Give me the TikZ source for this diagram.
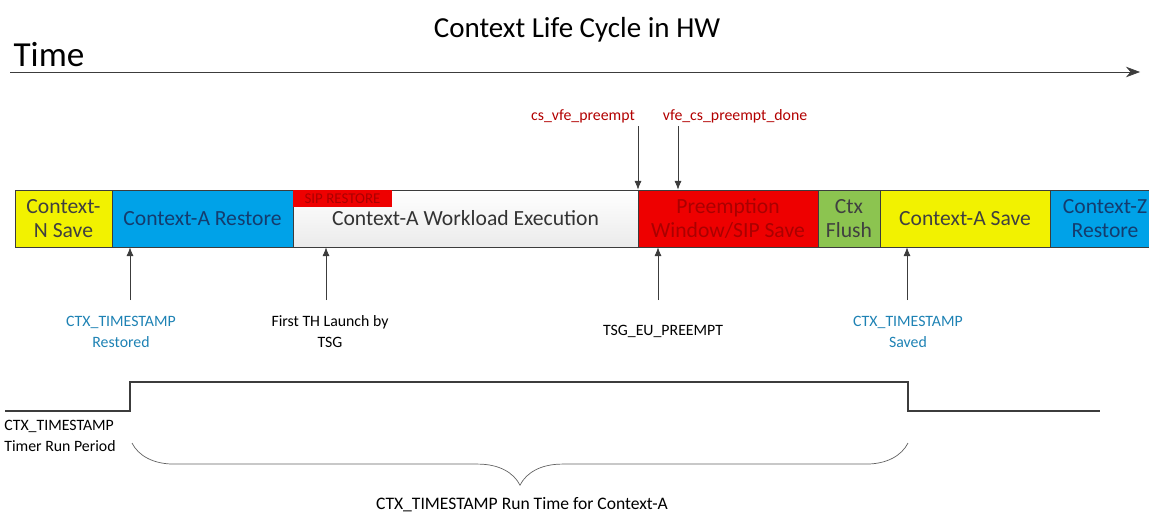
\documentclass[tikz,border=0pt]{standalone}
\usepackage{fontspec}
\setmainfont{Carlito}
\usepackage{xcolor}
\usetikzlibrary{arrows.meta,decorations.pathreplacing}

\definecolor{ctxyellow}{RGB}{242,242,0}
\definecolor{ctxblue}{RGB}{0,162,232}
\definecolor{ctxred}{RGB}{238,0,0}
\definecolor{ctxgreen}{RGB}{140,196,80}
\definecolor{darkred}{RGB}{170,0,0}
\definecolor{darkblue}{RGB}{20,60,110}
\definecolor{stampblue}{RGB}{30,130,180}
\definecolor{linegray}{RGB}{60,60,60}

\tikzset{
  seg/.style={draw=linegray, minimum height=1.14cm, inner sep=0pt, align=center,
    font=\fontsize{12.3}{14}\selectfont},
  evt/.style={align=center, font=\fontsize{9}{12}\selectfont},
  sig/.style={red!70!black, font=\fontsize{9}{11}\selectfont},
  pointer/.style={draw=linegray, -{Latex[length=5pt,width=4pt]}}
}

\begin{document}
\begin{tikzpicture}[x=0.02cm, y=-0.02cm]
                \useasboundingbox (0,0) rectangle (1149,514);
                % time axis
                \node[font=\fontsize{16.5}{19}\selectfont] (title) at (577,30) {Context Life Cycle in HW};
                \node[font=\fontsize{20}{22}\selectfont] (time) at (49,55) {Time};
                \coordinate (t0) at (10,72);
                \coordinate (t1) at (1140,72);
                \draw[linegray, -{Stealth[length=8pt,width=6pt]}] (t0) -- (t1);
                % context bar
                \node[seg, fill=ctxyellow, text=black!75, minimum width=1.94cm] (nsave) at (63.5,218.5) {Context-\\N Save};
                \node[seg, fill=ctxblue, text=darkblue, minimum width=3.62cm] (arest) at (202.5,218.5) {Context-A Restore};
                \node[seg, top color=white, bottom color=black!8, text=black!80, minimum width=6.9cm] (awork) at (465.5,218.5) {Context-A Workload Execution};
                \node[seg, fill=ctxred, text=darkred, minimum width=3.6cm] (preempt) at (728,218.5) {Preemption\\Window/SIP Save};
                \node[seg, fill=ctxgreen, text=black!75, minimum width=1.24cm] (flush) at (849,218.5) {Ctx\\Flush};
                \node[seg, fill=ctxyellow, text=black!75, minimum width=3.4cm] (asave) at (965,218.5) {Context-A Save};
                \node[seg, fill=ctxblue, text=darkblue, minimum width=2.2cm] (zrest) at (1105,218.5) {Context-Z\\Restore};
                \node[fill=ctxred, text=darkred, inner sep=0pt, minimum width=1.98cm, minimum height=0.34cm,
                  font=\fontsize{8.5}{9}\selectfont] (siprest) at (342.5,198.5) {SIP RESTORE};
                % preemption signals
                \node[sig] (cspre) at (583,116) {cs\_vfe\_preempt};
                \node[sig] (vfedone) at (735,116) {vfe\_cs\_preempt\_done};
                \coordinate (cspretop) at (638,126);
                \coordinate (vfedonetop) at (678,126);
                \draw[pointer] (cspretop) -- (cspretop |- preempt.north);
                \draw[pointer] (vfedonetop) -- (vfedonetop |- preempt.north);
                % events
                \node[evt, text=stampblue] (restored) at (121,332) {CTX\_TIMESTAMP\\Restored};
                \node[evt] (launch) at (330,332) {First TH Launch by\\TSG};
                \node[evt] (eupre) at (663,331) {TSG\_EU\_PREEMPT};
                \node[evt, text=stampblue] (saved) at (908,332) {CTX\_TIMESTAMP\\Saved};
                \coordinate (restoredtip) at (130,300);
                \coordinate (launchtip) at (326,300);
                \coordinate (eupretip) at (658,300);
                \coordinate (savedtip) at (907,300);
                \draw[pointer] (restoredtip) -- (restoredtip |- arest.south);
                \draw[pointer] (launchtip) -- (launchtip |- awork.south);
                \draw[pointer] (eupretip) -- (eupretip |- preempt.south);
                \draw[pointer] (savedtip) -- (savedtip |- asave.south);
                % timer run period
                \draw[linegray, line width=0.8pt] (5,411) -- (130,411) -- (130,382) -- (908,382) -- (908,411) -- (1100,411);
                \node[evt, align=left, anchor=north west, inner sep=0pt] (period) at (4,420) {CTX\_TIMESTAMP\\Timer Run Period};
                \coordinate (bracel) at (132,443);
                \coordinate (bracer) at (908,443);
                \draw[linegray!80, decorate, decoration={brace, mirror, amplitude=24pt}] (bracel) -- (bracer);
                \node[evt, font=\fontsize{10}{12}\selectfont] (runtime) at (522,505) {CTX\_TIMESTAMP Run Time for Context-A};
            \end{tikzpicture}
\end{document}
